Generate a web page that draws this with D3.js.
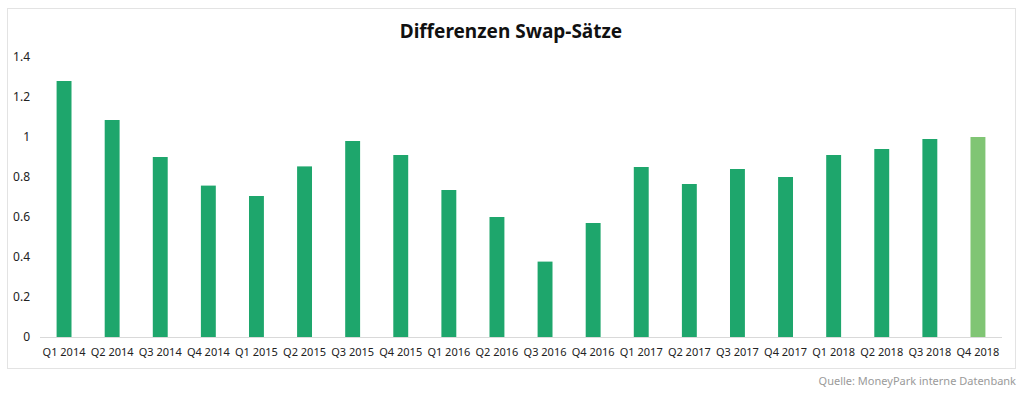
<!DOCTYPE html>
<html>
<head>
<meta charset="utf-8">
<script src="https://cdn.jsdelivr.net/npm/d3@7"></script>
<style>
  body { margin: 0; background: #fff; }
  svg { display: block; font-family: "Noto Sans", sans-serif; }
</style>
</head>
<body>
<div class="chart"></div>
<script>
const quarters = ["Q1 2014","Q2 2014","Q3 2014","Q4 2014","Q1 2015","Q2 2015","Q3 2015","Q4 2015",
  "Q1 2016","Q2 2016","Q3 2016","Q4 2016","Q1 2017","Q2 2017","Q3 2017","Q4 2017",
  "Q1 2018","Q2 2018","Q3 2018","Q4 2018"];
const swapDiff = [1.28,1.085,0.9,0.757,0.705,0.853,0.98,0.91,
  0.735,0.6,0.377,0.57,0.85,0.765,0.84,0.8,
  0.91,0.94,0.99,1.0];
const yTicks = [0,0.2,0.4,0.6,0.8,1,1.2,1.4];

const width = 1024, height = 394;
const svg = d3.select('.chart').append('svg')
  .attr('width', width).attr('height', height);

// frame
svg.append('rect')
  .attr('x', 7.5).attr('y', 8.5)
  .attr('width', 1008).attr('height', 360)
  .attr('fill', 'none').attr('stroke', '#e3e3e3');

svg.append('text')
  .attr('x', 511).attr('y', 38)
  .attr('text-anchor', 'middle')
  .attr('font-size', 19).attr('font-weight', 'bold')
  .attr('fill', '#111')
  .text('Differenzen Swap-Sätze');

const x = d3.scaleBand().domain(quarters).range([40, 1002]).paddingInner(0.69).paddingOuter(0.345);
const y = d3.scaleLinear().domain([0, 1.4]).range([337, 57]);

svg.selectAll('.bar')
  .data(swapDiff)
  .enter()
  .append('rect')
  .attr('class', 'bar')
  .attr('x', (d, i) => x(quarters[i]))
  .attr('y', d => y(d))
  .attr('width', x.bandwidth())
  .attr('height', d => y(0) - y(d))
  .attr('fill', (d, i) => i === quarters.length - 1 ? '#80c574' : '#1ea66c');

// baseline
svg.append('line')
  .attr('x1', 40).attr('x2', 1002)
  .attr('y1', y(0) + 0.5).attr('y2', y(0) + 0.5)
  .attr('stroke', '#d9d9d9');

svg.selectAll('.ytick')
  .data(yTicks)
  .enter()
  .append('text')
  .attr('class', 'ytick')
  .attr('x', 30)
  .attr('y', d => y(d) + 4)
  .attr('text-anchor', 'end')
  .attr('font-size', 12)
  .attr('fill', '#222')
  .text(d => d);

svg.selectAll('.xlab')
  .data(quarters)
  .enter()
  .append('text')
  .attr('class', 'xlab')
  .attr('x', d => x(d) + x.bandwidth() / 2)
  .attr('y', 356)
  .attr('text-anchor', 'middle')
  .attr('font-size', 11)
  .attr('fill', '#222')
  .text(d => d);

svg.append('text')
  .attr('x', 1016).attr('y', 385)
  .attr('text-anchor', 'end')
  .attr('font-size', 11)
  .attr('fill', '#9a9a9a')
  .text('Quelle: MoneyPark interne Datenbank');
</script>
</body>
</html>
